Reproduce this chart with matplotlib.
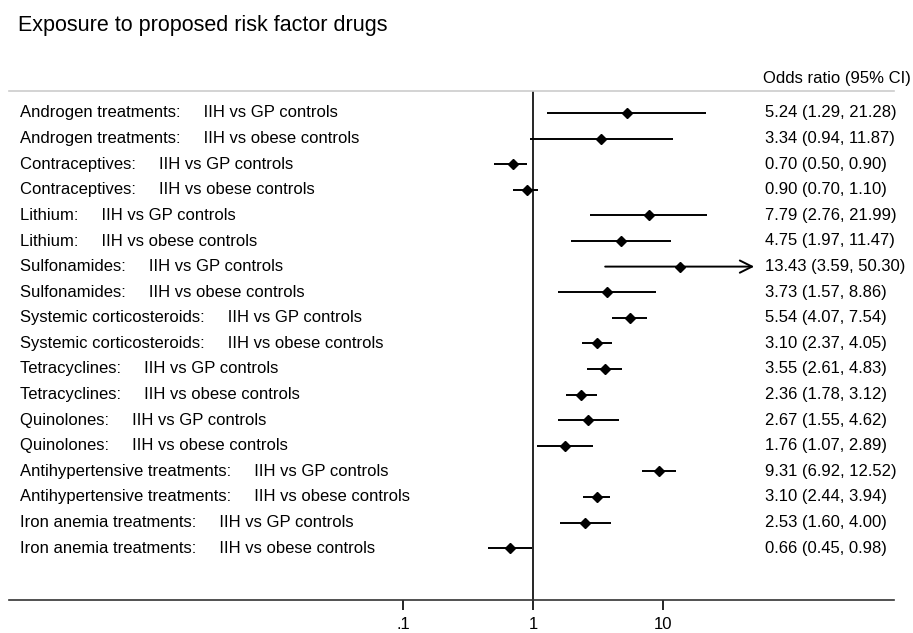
import matplotlib.pyplot as plt
from matplotlib.transforms import blended_transform_factory

# ----------- DATA --------------
drugs = ['Androgen treatments', 'Androgen treatments',
         'Contraceptives', 'Contraceptives',
         'Lithium', 'Lithium',
         'Sulfonamides', 'Sulfonamides',
         'Systemic corticosteroids', 'Systemic corticosteroids',
         'Tetracyclines', 'Tetracyclines',
         'Quinolones', 'Quinolones',
         'Antihypertensive treatments', 'Antihypertensive treatments',
         'Iron anemia treatments', 'Iron anemia treatments']
comparisons = ['IIH vs GP controls', 'IIH vs obese controls'] * 9
odds = [5.24, 3.34, 0.70, 0.90, 7.79, 4.75, 13.43, 3.73, 5.54,
        3.10, 3.55, 2.36, 2.67, 1.76, 9.31, 3.10, 2.53, 0.66]
lower = [1.29, 0.94, 0.50, 0.70, 2.76, 1.97, 3.59, 1.57, 4.07,
         2.37, 2.61, 1.78, 1.55, 1.07, 6.92, 2.44, 1.60, 0.45]
upper = [21.28, 11.87, 0.90, 1.10, 21.99, 11.47, 50.30, 8.86, 7.54,
         4.05, 4.83, 3.12, 4.62, 2.89, 12.52, 3.94, 4.00, 0.98]
arrow_rows = [6]   # CI drawn with an arrow head
xticks = [0.1, 1, 10]
xticklabels = ['.1', '1', '10']
# --------------------------------

plt.rcParams['font.family'] = ['Liberation Sans', 'DejaVu Sans']

W, H = 913, 633
fig = plt.figure(figsize=(W / 100, H / 100), dpi=100)

# axes box in pixels
left_px, right_px = 9, 894
top_px, bottom_px = 91, 600
ax = fig.add_axes([left_px / W, 1 - bottom_px / H,
                   (right_px - left_px) / W, (bottom_px - top_px) / H])

# log scale: .1 at 403 px, 1 at 533 px, 10 at 663 px
dec = 130.0
ax.set_xscale('log')
ax.set_xlim(10 ** ((left_px - 533) / dec), 10 ** ((right_px - 533) / dec))

n = len(odds)
first_row, row_step = 113, 25.6
ax.set_ylim((bottom_px - first_row) / row_step, (top_px - first_row) / row_step)

rows = list(range(n))
for i in rows:
    if i in arrow_rows:
        ax.annotate('', xy=(upper[i], i), xytext=(lower[i], i),
                    arrowprops=dict(arrowstyle='->', color='black', lw=1.4,
                                    mutation_scale=22, shrinkA=0, shrinkB=0))
    else:
        ax.plot([lower[i], upper[i]], [i, i], color='black', lw=1.4,
                solid_capstyle='butt')
ax.plot(odds, rows, linestyle='none', marker='D', color='black', markersize=5)

ax.axvline(1, color='black', lw=1.2)

for s in ['left', 'right']:
    ax.spines[s].set_visible(False)
ax.spines['top'].set_color('#cccccc')
ax.spines['top'].set_linewidth(1.2)
ax.spines['bottom'].set_color('#333333')
ax.spines['bottom'].set_linewidth(1.2)

ax.set_yticks([])
ax.set_xticks(xticks)
ax.set_xticklabels(xticklabels)
ax.minorticks_off()
ax.tick_params(axis='x', length=7, width=1.2, labelsize=12, pad=5)

# texts
tr = blended_transform_factory(fig.transFigure, ax.transData)
for i in rows:
    ax.text(20 / W, i, drugs[i] + ':     ' + comparisons[i], transform=tr,
            ha='left', va='center', fontsize=12)
    ax.text(765 / W, i, '%.2f (%.2f, %.2f)' % (odds[i], lower[i], upper[i]),
            transform=tr, ha='left', va='center', fontsize=12)

fig.text(763 / W, 1 - 78 / H, 'Odds ratio (95% CI)', ha='left', va='center',
         fontsize=12)
fig.text(18 / W, 1 - 26 / H, 'Exposure to proposed risk factor drugs',
         ha='left', va='center', fontsize=15.5)

fig.savefig('out.png', dpi=100)
